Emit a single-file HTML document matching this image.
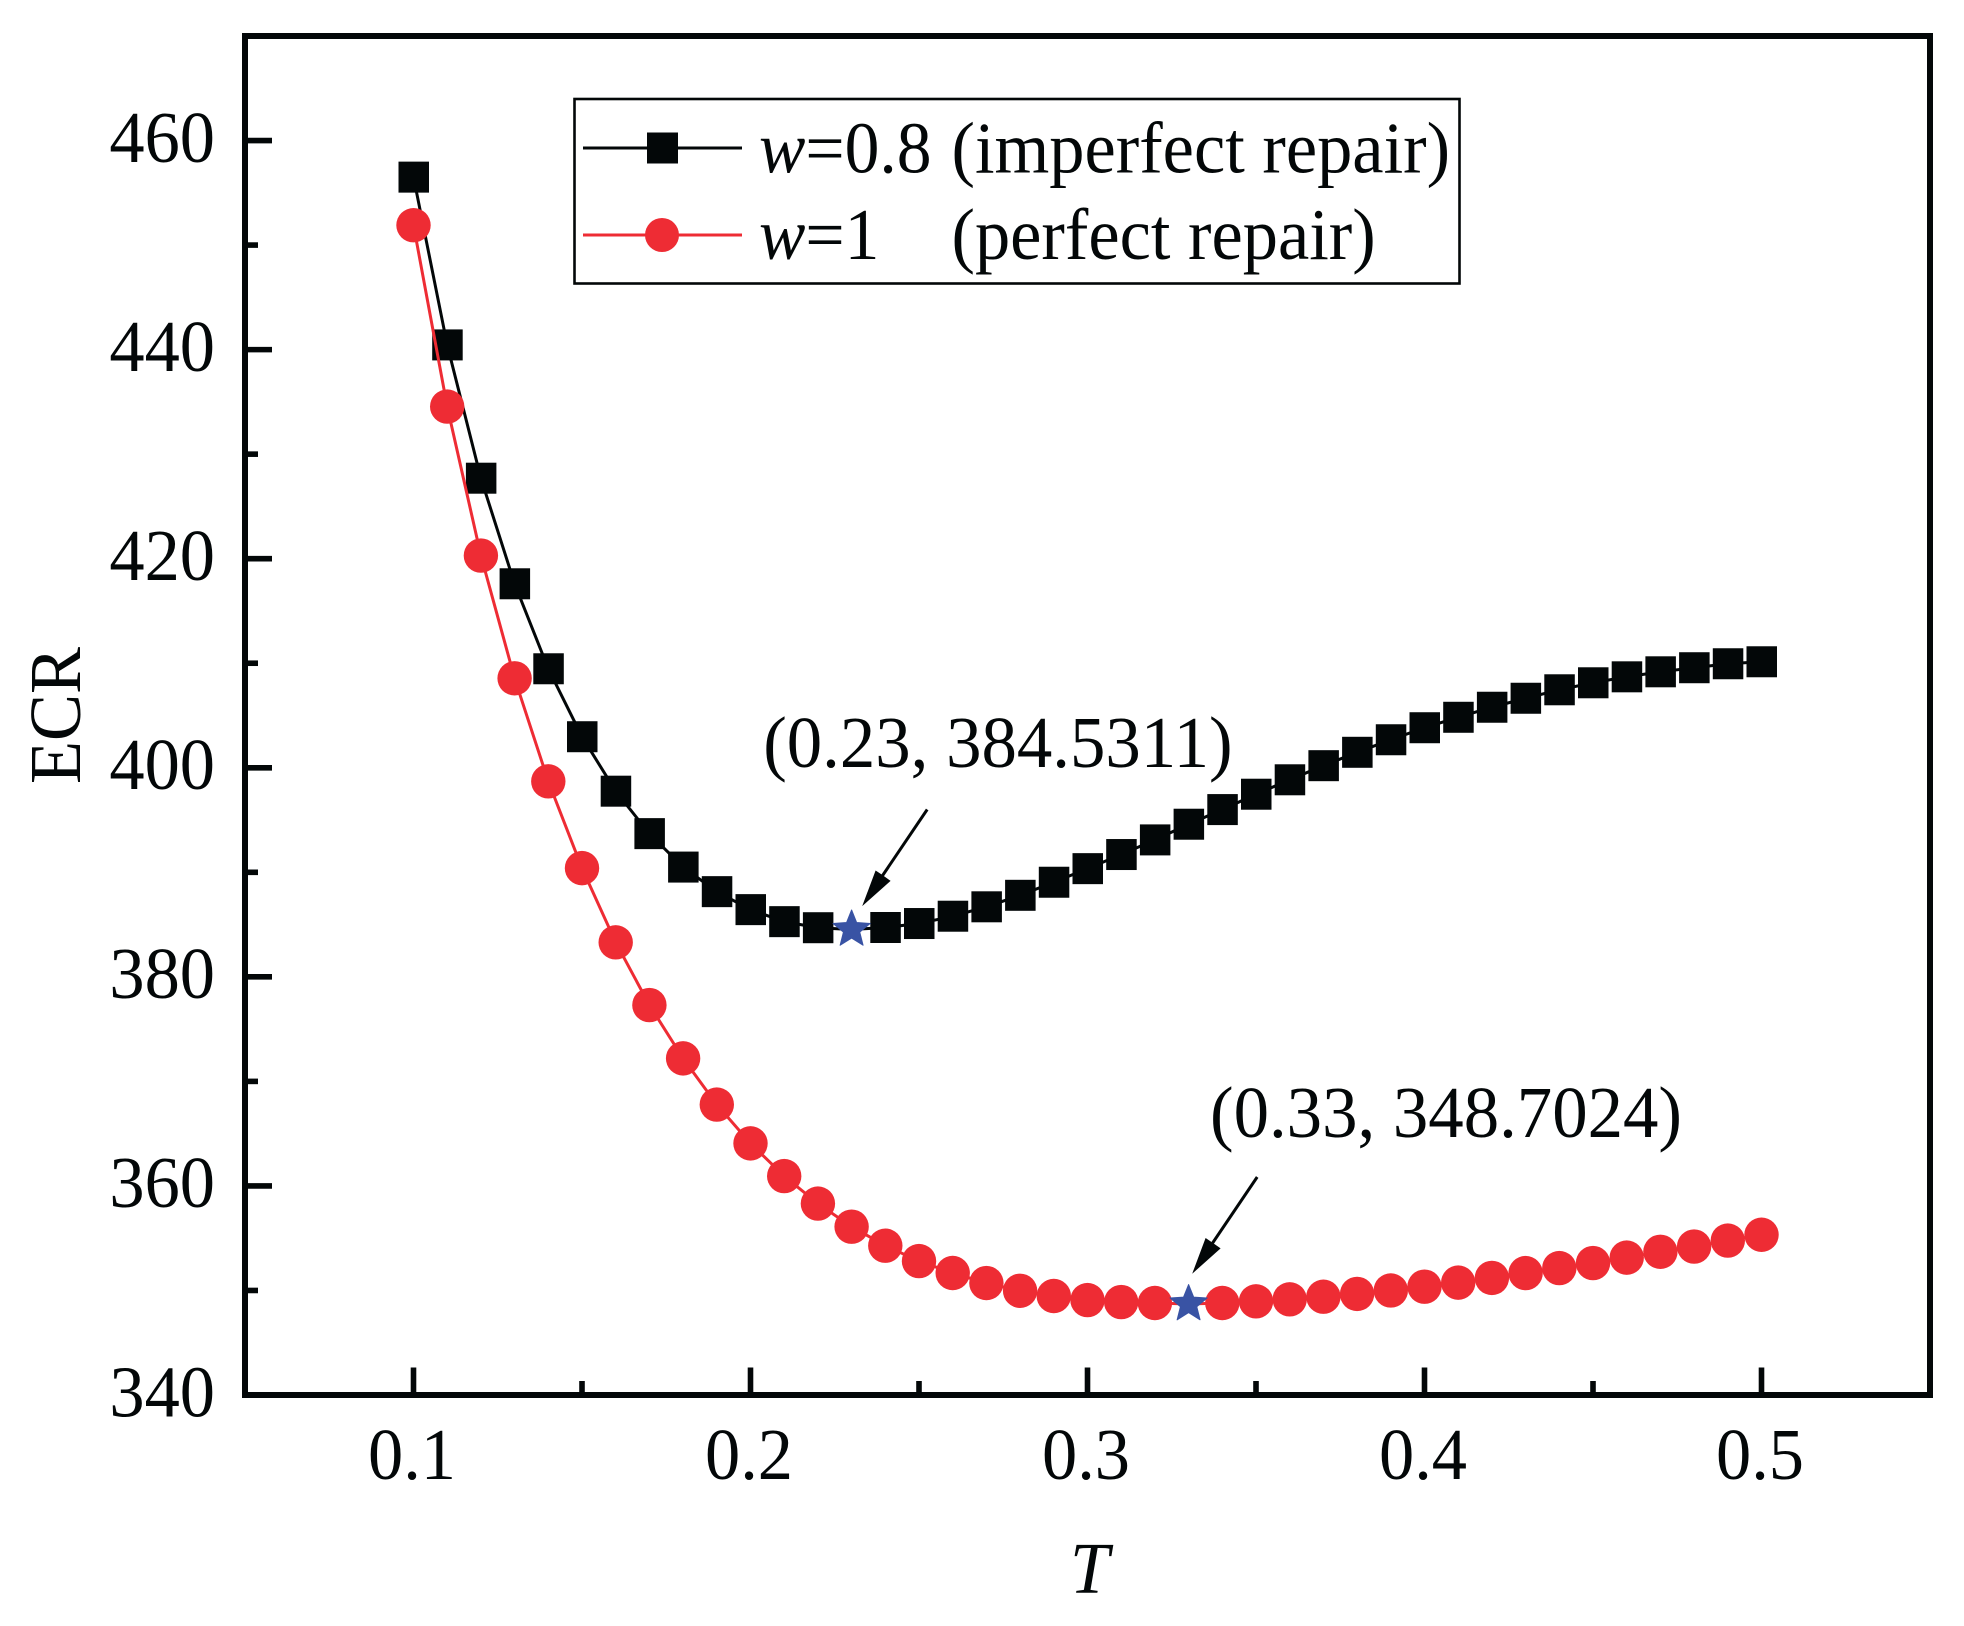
<!DOCTYPE html>
<html lang="en">
<head>
<meta charset="utf-8">
<title>ECR versus T</title>
<style>
html,body{margin:0;padding:0;background:#fff;}
svg{display:block;}
text{font-family:"Liberation Serif",serif;font-size:73px;fill:#030708;}
</style>
</head>
<body>
<svg id="chart" xmlns="http://www.w3.org/2000/svg" width="1964" height="1626" viewBox="0 0 1964 1626">
  <rect x="0" y="0" width="1964" height="1626" fill="#fff"/>
  <g id="series-layer"></g>
  <g id="axes-layer"></g>
  <g id="annotation-layer"></g>
  <text transform="translate(80,784) rotate(-90) scale(.965,1)">ECR</text>
  <text transform="translate(1070,1593) scale(.965,1)" font-style="italic">T</text>
  <g>
    <rect x="574.5" y="99" width="885" height="184.5" fill="#fff" stroke="#030708" stroke-width="2.6"/>
    <g>
      <line x1="583" y1="148" x2="742" y2="148" stroke="#030708" stroke-width="3"/>
      <rect x="647" y="132.5" width="31" height="31" fill="#030708"/>
      <text transform="translate(759,172.7) scale(.953,1)"><tspan font-style="italic">w</tspan>=0.8</text>
      <text transform="translate(951.5,172.7) scale(.965,1)">(imperfect repair)</text>
    </g>
    <g>
      <line x1="583" y1="235" x2="742" y2="235" stroke="#ee2c34" stroke-width="3"/>
      <circle cx="662" cy="235" r="17" fill="#ee2c34"/>
      <text transform="translate(759,259) scale(.953,1)"><tspan font-style="italic">w</tspan>=1</text>
      <text transform="translate(951.5,259) scale(.965,1)">(perfect repair)</text>
    </g>
  </g>
</svg>
<script>
const categories = [0.10,0.11,0.12,0.13,0.14,0.15,0.16,0.17,0.18,0.19,0.20,0.21,0.22,0.23,0.24,0.25,0.26,0.27,0.28,0.29,0.30,0.31,0.32,0.33,0.34,0.35,0.36,0.37,0.38,0.39,0.40,0.41,0.42,0.43,0.44,0.45,0.46,0.47,0.48,0.49,0.50];
const imperfectValues = [456.5,440.45,427.7,417.6,409.47,402.97,397.76,393.7,390.5,388.15,386.43,385.28,384.7,384.5311,384.72,385.1,385.8,386.7,387.8,389.05,390.35,391.7,393.1,394.6,396.0,397.47,398.85,400.2,401.48,402.68,403.83,404.83,405.79,406.65,407.46,408.13,408.7,409.18,409.57,409.95,410.14];
const perfectValues = [451.9,434.55,420.3,408.56,398.7,390.4,383.3,377.3,372.2,367.78,364.07,360.94,358.31,356.1,354.28,352.81,351.67,350.71,349.97,349.47,349.08,348.89,348.8,348.7024,348.8,348.96,349.15,349.4,349.67,350.0,350.36,350.75,351.2,351.66,352.14,352.62,353.14,353.7,354.2,354.77,355.33];
const xMajorTicks = [0.1,0.2,0.3,0.4,0.5];
const xMinorTicks = [0.15,0.25,0.35,0.45];
const xTickLabels = ["0.1","0.2","0.3","0.4","0.5"];
const yMajorTicks = [340,360,380,400,420,440,460];
const yMinorTicks = [350,370,390,410,430,450];
const yTickLabels = ["340","360","380","400","420","440","460"];
const minimumX = [0.23,0.33];
const minimumY = [384.5311,348.7024];
const minimumLabels = ["(0.23, 384.5311)","(0.33, 348.7024)"];

const NS = "http://www.w3.org/2000/svg";
const INK = "#030708", RED = "#ee2c34", BLUE = "#3953a4";
const plot = {left:245, right:1930, top:36, bottom:1395};
const xDomain = [0.05,0.55], yDomain = [340,470];
function xScale(v){ return plot.left + (v-xDomain[0])/(xDomain[1]-xDomain[0])*(plot.right-plot.left); }
function yScale(v){ return plot.bottom - (v-yDomain[0])/(yDomain[1]-yDomain[0])*(plot.bottom-plot.top); }
function make(tag, attrs, parent){
  const el = document.createElementNS(NS, tag);
  for (const k in attrs) el.setAttribute(k, attrs[k]);
  parent.appendChild(el);
  return el;
}
function textTransform(x, y){ return "translate("+x+","+y+") scale(.965,1)"; }
const seriesLayer = document.getElementById("series-layer");
const axesLayer = document.getElementById("axes-layer");
const annotationLayer = document.getElementById("annotation-layer");

function pointsOf(values){ return categories.map((c,i)=>xScale(c).toFixed(2)+","+yScale(values[i]).toFixed(2)).join(" "); }

// black series
const blackGroup = make("g", {}, seriesLayer);


const blackLine = make("polyline", {points:pointsOf(imperfectValues), fill:"none", stroke:INK, "stroke-width":3}, blackGroup);


categories.forEach((c,i)=>{
  if (minimumX[0] === c) return;
  const square = make("rect", {x:xScale(c)-15, y:yScale(imperfectValues[i])-15.5, width:30.5, height:31, fill:INK}, blackGroup);
  
  
});

// red series
const redGroup = make("g", {}, seriesLayer);


const redLine = make("polyline", {points:pointsOf(perfectValues), fill:"none", stroke:RED, "stroke-width":3}, redGroup);


categories.forEach((c,i)=>{
  if (minimumX[1] === c) return;
  const dot = make("circle", {cx:xScale(c), cy:yScale(perfectValues[i]), r:17.2, fill:RED}, redGroup);
  
  
});

// frame
const frame = make("rect", {x:plot.left, y:plot.top, width:plot.right-plot.left, height:plot.bottom-plot.top, fill:"none", stroke:INK, "stroke-width":6}, axesLayer);



// x ticks
xMajorTicks.forEach((t,i)=>{
  const tick = make("line", {x1:xScale(t), x2:xScale(t), y1:plot.bottom, y2:plot.bottom-27.5, stroke:INK, "stroke-width":5.6}, axesLayer);
  
  
  const label = make("text", {transform:textTransform(xScale(t)-1.5, 1479), "text-anchor":"middle"}, axesLayer);
  
  
  label.textContent = xTickLabels[i];
});
xMinorTicks.forEach(t=>{
  const tick = make("line", {x1:xScale(t), x2:xScale(t), y1:plot.bottom, y2:plot.bottom-14, stroke:INK, "stroke-width":5.6}, axesLayer);
  
  
});

// y ticks
yMajorTicks.forEach((t,i)=>{
  const tick = make("line", {x1:plot.left, x2:plot.left+27, y1:yScale(t), y2:yScale(t), stroke:INK, "stroke-width":5.6}, axesLayer);
  
  
  const label = make("text", {transform:textTransform(215, yScale(t)+21.3), "text-anchor":"end"}, axesLayer);
  
  
  label.textContent = yTickLabels[i];
});
yMinorTicks.forEach(t=>{
  const tick = make("line", {x1:plot.left, x2:plot.left+13, y1:yScale(t), y2:yScale(t), stroke:INK, "stroke-width":5.6}, axesLayer);
  
  
});

// minimum stars, arrows and labels
function starPath(cx, cy, outer){
  const inner = outer*0.44;
  const pts = [];
  for (let k=0;k<10;k++){
    const r = k%2 ? inner : outer;
    const a = -Math.PI/2 + k*Math.PI/5;
    pts.push((cx+r*Math.cos(a)).toFixed(2)+","+(cy+r*Math.sin(a)).toFixed(2));
  }
  return pts.join(" ");
}
minimumX.forEach((mx,i)=>{
  const cx = xScale(mx), cy = yScale(minimumY[i]);
  const star = make("polygon", {points:starPath(cx,cy,19.5), fill:BLUE, stroke:BLUE, "stroke-width":1, "stroke-linejoin":"round"}, annotationLayer);
  
  
  const ax = i === 0 ? cx : cx-7, ay = i === 0 ? cy : cy-7;
  const shaft = make("line", {x1:ax+75.6, y1:ay-120, x2:ax+31, y2:ay-54, stroke:INK, "stroke-width":3}, annotationLayer);
  
  
  const head = make("polygon", {points:[
    (ax+10.6)+","+(ay-23.3),
    (ax+24)+","+(ay-59),
    (ax+31)+","+(ay-54.3),
    (ax+39)+","+(ay-48.6)
  ].join(" "), fill:INK}, annotationLayer);
  
  
  const lx = i === 0 ? cx-88.4 : cx+21.4, ly = i === 0 ? cy-162.3 : cy-167;
  const label = make("text", {transform:"translate("+lx+","+ly+") scale(.97,1)"}, annotationLayer);
  
  
  label.textContent = minimumLabels[i];
});
</script>
</body>
</html>
